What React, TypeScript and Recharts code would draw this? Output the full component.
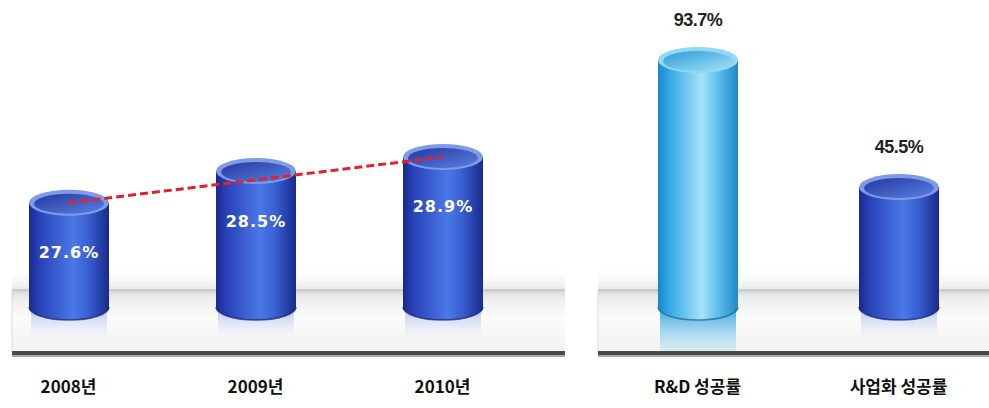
import { ComposedChart, Bar, Line, XAxis, YAxis, LabelList } from 'recharts'

const years = ['2008년', '2009년', '2010년']
const yearRates = [27.6, 28.5, 28.9]
// dashed trend line: first and last year only
const trendRates = [27.6, null, 28.9]

const kinds = ['R&D 성공률', '사업화 성공률']
const kindRates = [93.7, 45.5]
const kindTone = ['light', 'dark']

const leftData = years.map((name, i) => ({ name, rate: yearRates[i], trend: trendRates[i], tone: 'dark' }))
const rightData = kinds.map((name, i) => ({ name, rate: kindRates[i], tone: kindTone[i] }))

const KR = '"Noto Sans CJK KR", "Noto Sans", sans-serif'
const NUM = '"DejaVu Sans", sans-serif'

function Gradients() {
  return (
    <defs>
      <linearGradient id="bodyDark" x1="0" y1="0" x2="1" y2="0">
        <stop offset="0" stopColor="#19298a" />
        <stop offset="0.12" stopColor="#2740b8" />
        <stop offset="0.55" stopColor="#4a78e6" />
        <stop offset="0.72" stopColor="#3b63d6" />
        <stop offset="1" stopColor="#182a8c" />
      </linearGradient>
      <linearGradient id="innerDark" x1="0" y1="0" x2="1" y2="1">
        <stop offset="0" stopColor="#24389e" />
        <stop offset="1" stopColor="#5a80e4" />
      </linearGradient>
      <linearGradient id="bodyLight" x1="0" y1="0" x2="1" y2="0">
        <stop offset="0" stopColor="#1b86c8" />
        <stop offset="0.15" stopColor="#36aae6" />
        <stop offset="0.55" stopColor="#a6e2f8" />
        <stop offset="0.72" stopColor="#66c4ee" />
        <stop offset="1" stopColor="#1f88c8" />
      </linearGradient>
      <linearGradient id="innerLight" x1="0" y1="0" x2="1" y2="1">
        <stop offset="0" stopColor="#2a9ad8" />
        <stop offset="1" stopColor="#a8e2f8" />
      </linearGradient>
      <linearGradient id="reflDark" x1="0" y1="0" x2="0" y2="1">
        <stop offset="0" stopColor="#6f8ee0" stopOpacity="0.55" />
        <stop offset="1" stopColor="#c8d4f4" stopOpacity="0" />
      </linearGradient>
      <linearGradient id="reflLight" x1="0" y1="0" x2="0" y2="1">
        <stop offset="0" stopColor="#2aa0dc" stopOpacity="0.95" />
        <stop offset="1" stopColor="#8fd2f0" stopOpacity="0.25" />
      </linearGradient>
    </defs>
  )
}

function Cylinder(props: any) {
  const { x, y, width, height, payload } = props
  const light = payload.tone === 'light'
  const rx = width / 2
  const ry = 13
  const cx = x + rx
  const bottom = y + height
  return (
    <g>
      <rect x={x + 2} y={bottom} width={width - 4} height={light ? 44 : 32} fill={light ? 'url(#reflLight)' : 'url(#reflDark)'} />
      <path
        d={`M${x},${y} L${x},${bottom} A${rx},${ry} 0 0 0 ${x + width},${bottom} L${x + width},${y} Z`}
        fill={light ? 'url(#bodyLight)' : 'url(#bodyDark)'}
      />
      <path
        d={`M${x},${bottom} A${rx},${ry} 0 0 0 ${x + width},${bottom}`}
        fill="none"
        stroke={light ? '#16648f' : '#101c66'}
        strokeWidth={1.5}
        opacity={0.7}
      />
      <ellipse cx={cx} cy={y} rx={rx} ry={ry} fill={light ? '#8fd8f6' : '#7f9ae8'} />
      <ellipse cx={cx} cy={y + 1} rx={rx - 5} ry={ry - 3} fill={light ? 'url(#innerLight)' : 'url(#innerDark)'} />
    </g>
  )
}

function InsideLabel(props: any) {
  const { x, y, width, value } = props
  return (
    <text x={x + width / 2} y={y + 50} textAnchor="middle" dominantBaseline="central"
      fill="#fff" fontFamily={NUM} fontWeight="bold" fontSize={16} letterSpacing={1}>
      {value}%
    </text>
  )
}

function TopLabel(props: any) {
  const { x, y, width, value } = props
  return (
    <text x={x + width / 2} y={y - 40} textAnchor="middle" dominantBaseline="central"
      fill="#222" fontFamily='"Liberation Sans", Arial, sans-serif' fontWeight="bold" fontSize={18} letterSpacing={-0.5}>
      {value}%
    </text>
  )
}

function CatTick(props: any) {
  const { x, y, payload } = props
  return (
    <text x={x} y={y + 70} textAnchor="middle" dominantBaseline="central"
      fill="#111" fontFamily={KR} fontWeight="bold" fontSize={17}>
      {payload.value}
    </text>
  )
}

function Platform({ x, width }: { x: number; width: number }) {
  return (
    <g>
      <rect x={x} y={266} width={width} height={24} fill="url(#backFade)" />
      <rect x={x} y={290} width={width} height={62} fill="url(#platTop)" />
      <line x1={x} y1={290} x2={x + width} y2={290} stroke="#b8b8b8" strokeWidth={1} />
      <line x1={x} y1={290} x2={x} y2={352} stroke="#dadada" strokeWidth={1} />
      <rect x={x} y={351} width={width} height={4} fill="#4a4a4a" />
      <rect x={x} y={355} width={width} height={2} fill="#a8a8a8" />
    </g>
  )
}

export default function App() {
  return (
    <div style={{ position: 'absolute', left: 0, top: 0, width: 989, height: 408, overflow: 'hidden', background: '#fff' }}>
      <svg width={989} height={408} style={{ position: 'absolute', left: 0, top: 0 }}>
        <defs>
          <linearGradient id="platTop" x1="0" y1="0" x2="0" y2="1">
            <stop offset="0" stopColor="#d2d2d2" />
            <stop offset="0.12" stopColor="#ededed" />
            <stop offset="0.45" stopColor="#fbfbfb" />
            <stop offset="1" stopColor="#f2f2f2" />
          </linearGradient>
          <linearGradient id="backFade" x1="0" y1="0" x2="0" y2="1">
            <stop offset="0" stopColor="#ffffff" stopOpacity="0" />
            <stop offset="1" stopColor="#e8e8e8" />
          </linearGradient>
        </defs>
        <Platform x={12} width={553} />
        <Platform x={598} width={400} />
      </svg>

      <div style={{ position: 'absolute', left: -25, top: 0 }}>
        <ComposedChart width={561} height={408} data={leftData} margin={{ top: 20, right: 0, bottom: 0, left: 0 }}>
          <Gradients />
          <XAxis dataKey="name" axisLine={false} tickLine={false} height={101} tick={<CatTick />} interval={0} />
          <YAxis hide type="number" domain={[24.64, 32.79]} />
          <Bar dataKey="rate" barSize={80} shape={<Cylinder />} isAnimationActive={false}>
            <LabelList dataKey="rate" content={<InsideLabel />} />
          </Bar>
          <Line dataKey="trend" connectNulls stroke="#e3202c" strokeWidth={3} strokeDasharray="8 4"
            dot={false} activeDot={false} isAnimationActive={false} />
        </ComposedChart>
      </div>

      <div style={{ position: 'absolute', left: 597, top: 0 }}>
        <ComposedChart width={402} height={408} data={rightData} margin={{ top: 20, right: 0, bottom: 0, left: 0 }}>
          <Gradients />
          <XAxis dataKey="name" axisLine={false} tickLine={false} height={101} tick={<CatTick />} interval={0} />
          <YAxis hide type="number" domain={[0, 108.9]} />
          <Bar dataKey="rate" barSize={80} shape={<Cylinder />} isAnimationActive={false}>
            <LabelList dataKey="rate" content={<TopLabel />} />
          </Bar>
        </ComposedChart>
      </div>
    </div>
  )
}
